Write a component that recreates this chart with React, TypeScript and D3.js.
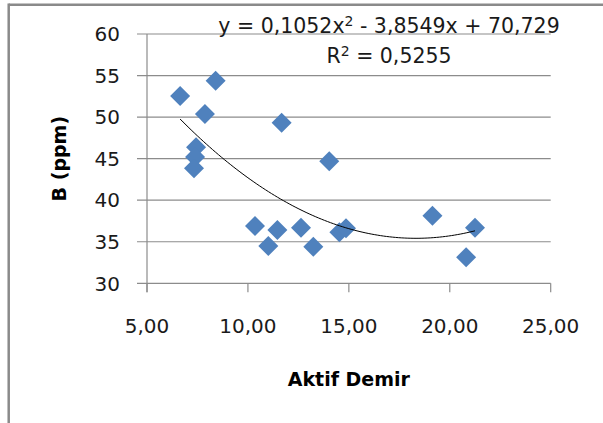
import React from "react";
import * as d3 from "d3";

const xValues = [6.64, 8.4, 7.87, 11.67, 7.43, 7.38, 7.33, 14.03, 10.35, 11.01, 11.46, 12.63, 13.24, 14.53, 14.86, 19.14, 21.25, 20.81];
const yValues = [52.54, 54.38, 50.38, 49.33, 46.37, 45.2, 43.84, 44.68, 36.9, 34.49, 36.41, 36.69, 34.4, 36.14, 36.62, 38.13, 36.69, 33.13];
const xTicks = [5, 10, 15, 20, 25];
const yTicks = [30, 35, 40, 45, 50, 55, 60];
const trendCoef = [0.1052, -3.8549, 70.729];
const equationText = "y = 0,1052x";
const equationRest = " - 3,8549x + 70,729";
const r2Text = "0,5255";
const xTitle = "Aktif Demir";
const yTitle = "B (ppm)";

const W = 603;
const H = 423;
const plot = { left: 147, right: 550.7, top: 34, bottom: 283.3 };
const FONT = "'DejaVu Sans', sans-serif";
const GRID = "#8c8c8c";
const POINT = "#4F81BD";

export default function App() {
  const x = d3.scaleLinear().domain([5, 25]).range([plot.left, plot.right]);
  const y = d3.scaleLinear().domain([30, 60]).range([plot.bottom, plot.top]);
  const fmt = (v: number) => v.toFixed(2).replace(".", ",");

  const xmin = d3.min(xValues) as number;
  const xmax = d3.max(xValues) as number;
  const steps = d3.range(0, 101).map((i) => xmin + ((xmax - xmin) * i) / 100);
  const trend = (v: number) => trendCoef[0] * v * v + trendCoef[1] * v + trendCoef[2];
  const line = d3
    .line<number>()
    .x((v) => x(v))
    .y((v) => y(trend(v)))
    .curve(d3.curveLinear);

  const diamond = d3.symbol().type(d3.symbolSquare).size(200)();

  return (
    <svg
      width={W}
      height={H}
      style={{ position: "absolute", left: 0, top: 0, background: "#fff" }}
      fontFamily={FONT}
    >
      <rect x={0} y={0} width={W} height={H} fill="#fff" />
      {/* chart border (top & left) */}
      <line x1={8.7} y1={4.7} x2={W} y2={4.7} stroke="#8a8a8a" strokeWidth={2.5} />
      <line x1={8.7} y1={3.5} x2={8.7} y2={H} stroke="#8a8a8a" strokeWidth={2.5} />

      {/* horizontal gridlines + y ticks */}
      {yTicks.map((t) => (
        <g key={"y" + t}>
          <line x1={plot.left - 10} x2={plot.right} y1={y(t)} y2={y(t)} stroke={GRID} strokeWidth={1.2} />
          <text x={120} y={y(t)} dy="0.36em" textAnchor="end" fontSize={20} fill="#1a1a1a">
            {t}
          </text>
        </g>
      ))}
      {/* y axis line */}
      <line x1={plot.left} x2={plot.left} y1={plot.top} y2={plot.bottom + 9} stroke={GRID} strokeWidth={1.2} />
      {/* x ticks */}
      {xTicks.map((t) => (
        <g key={"x" + t}>
          <line x1={x(t)} x2={x(t)} y1={plot.bottom} y2={plot.bottom + 9} stroke={GRID} strokeWidth={1.2} />
          <text x={x(t)} y={333} textAnchor="middle" fontSize={20} fill="#1a1a1a">
            {fmt(t)}
          </text>
        </g>
      ))}

      {/* points */}
      {xValues.map((v, i) => (
        <path
          key={"p" + i}
          d={diamond as string}
          transform={`translate(${x(v)},${y(yValues[i])}) rotate(45)`}
          fill={POINT}
        />
      ))}

      {/* trendline */}
      <path d={line(steps) as string} fill="none" stroke="#000" strokeWidth={1} />

      {/* equation */}
      <text x={389} y={33} textAnchor="middle" fontSize={20.5} fill="#1a1a1a">
        {equationText}
        <tspan fontSize={14} dy={-7}>2</tspan>
        <tspan dy={7}>{equationRest}</tspan>
      </text>
      <text x={389} y={63} textAnchor="middle" fontSize={20.5} fill="#1a1a1a">
        R<tspan fontSize={14} dy={-7}>2</tspan>
        <tspan dy={7}>{" = " + r2Text}</tspan>
      </text>

      {/* axis titles */}
      <text x={348.8} y={386} textAnchor="middle" fontSize={19} fontWeight="bold" fill="#000">
        {xTitle}
      </text>
      <text
        transform={`translate(66,${(plot.top + plot.bottom) / 2}) rotate(-90)`}
        textAnchor="middle"
        fontSize={19}
        fontWeight="bold"
        fill="#000"
      >
        {yTitle}
      </text>
    </svg>
  );
}
